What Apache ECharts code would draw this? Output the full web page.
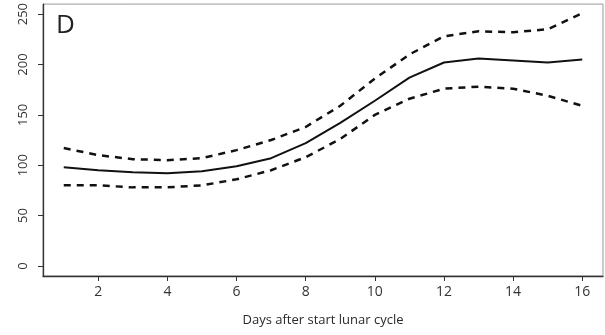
<!DOCTYPE html>
<html>
<head>
<meta charset="utf-8">
<script src="https://cdn.jsdelivr.net/npm/echarts@6/dist/echarts.min.js"></script>
<style>
  html, body { margin: 0; padding: 0; background: #fff; }
  #chart { width: 605px; height: 335px; }
</style>
</head>
<body>
<div id="chart"></div>
<script>
// Days after the start of the lunar cycle
const days = [1, 2, 3, 4, 5, 6, 7, 8, 9, 10, 11, 12, 13, 14, 15, 16];
// Fitted curve and its upper / lower bounds
const fit   = [98, 95, 93, 92, 94, 99, 107, 122, 142, 164, 187, 202, 206, 204, 202, 205];
const upper = [117, 110, 106, 105, 107, 115, 125, 138, 159, 186, 210, 228, 233, 232, 235, 251];
const lower = [80, 80, 78, 78, 80, 86, 95, 108, 126, 150, 166, 176, 178, 176, 169, 159];
// Tick labels
const xTicks = [2, 4, 6, 8, 10, 12, 14, 16];
const yTicks = [0, 50, 100, 150, 200, 250];
const panelLabel = 'D';
const xTitle = 'Days after start lunar cycle';

const pairs = (ys) => days.map((d, i) => [d, ys[i]]);
const font = '"Open Sans", Lato, sans-serif';

const chart = echarts.init(document.getElementById('chart'), null, { renderer: 'canvas' });
chart.setOption({
  animation: false,
  backgroundColor: '#fff',
  grid: {
    left: 43, right: 2, top: 3, bottom: 59,
    show: true, borderColor: '#9a9a9a', borderWidth: 1, backgroundColor: 'transparent'
  },
  title: {
    text: panelLabel, left: 51, top: 8,
    textStyle: { fontFamily: font, fontWeight: 'normal', fontSize: 26, color: '#222' }
  },
  xAxis: {
    type: 'value', min: 0.4, max: 16.6,
    name: xTitle, nameLocation: 'middle', nameGap: 38,
    nameTextStyle: { fontFamily: font, fontSize: 13, color: '#2a2a2a' },
    axisLine: { show: true, onZero: false, lineStyle: { color: '#333', width: 1.3 } },
    axisTick: { show: true, length: 5, customValues: xTicks, lineStyle: { color: '#333' } },
    axisLabel: { customValues: xTicks, margin: 9, fontFamily: font, fontSize: 14, color: '#333' },
    splitLine: { show: false }
  },
  yAxis: {
    type: 'value', min: -10, max: 260,
    axisLine: { show: true, onZero: false, lineStyle: { color: '#333', width: 1.3 } },
    axisTick: { show: true, length: 5, customValues: yTicks, lineStyle: { color: '#333' } },
    axisLabel: { customValues: yTicks, rotate: 90, margin: 13, fontFamily: font, fontSize: 13, color: '#333' },
    splitLine: { show: false }
  },
  series: [
    {
      type: 'line', data: pairs(fit), showSymbol: false, silent: true,
      lineStyle: { color: '#111', width: 2 }
    },
    {
      type: 'line', data: pairs(upper), showSymbol: false, silent: true,
      lineStyle: { color: '#111', width: 2.5, type: [7, 6] }
    },
    {
      type: 'line', data: pairs(lower), showSymbol: false, silent: true,
      lineStyle: { color: '#111', width: 2.5, type: [7, 6] }
    }
  ]
});
</script>
</body>
</html>
